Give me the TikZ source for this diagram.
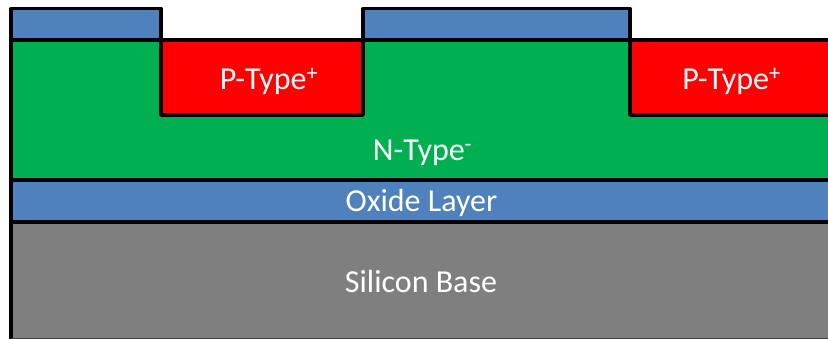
\documentclass[tikz,border=0pt]{standalone}
\usepackage{fontspec}
\setmainfont{Carlito}
\definecolor{oxblue}{HTML}{4F81BD}
\definecolor{ngreen}{HTML}{00B050}
\definecolor{ptred}{HTML}{FF0000}
\definecolor{sigray}{HTML}{7F7F7F}
\tikzset{
  layer/.style={draw=black,line width=3.4pt,line join=round},
  lbl/.style={text=white,font=\fontsize{32}{35}\selectfont,inner sep=0pt,anchor=base},
}
\begin{document}
\begin{tikzpicture}[x=1pt,y=-1pt]
\path[use as bounding box,fill=white] (0,0) rectangle (828,339);
\begin{scope}
\clip (0,0) rectangle (828,339);
% silicon base
\path[layer,fill=sigray,draw=none] (11,222) rectangle (840,338);
\draw[layer] (11,222) -- (11,345);
\draw[black!75,line width=1.5pt] (11,338.5) -- (840,338.5);
% oxide
\path[layer,fill=oxblue] (11,180) rectangle (840,222);
% n-type
\path[layer,fill=ngreen] (11,40) rectangle (840,180);
% p-type wells
\path[layer,fill=ptred] (161,40) rectangle (363,115);
\path[layer,fill=ptred] (630,40) -- (630,115) -- (840,115) -- (840,40) -- cycle;
% top oxide pads
\path[layer,fill=oxblue] (11,8.5) rectangle (161,40);
\path[layer,fill=oxblue] (363,8.5) rectangle (630,40);
\end{scope}
\node[lbl] (p1) at (269,89.5) {P-Type\textsuperscript{+}};
\node[lbl] (p2) at (731.5,89.5) {P-Type\textsuperscript{+}};
\node[lbl] (n) at (422.5,160.5) {N-Type\textsuperscript{-}};
\node[lbl] (ox) at (421.5,212) {Oxide Layer};
\node[lbl] (si) at (421,293) {Silicon Base};
\end{tikzpicture}
\end{document}
